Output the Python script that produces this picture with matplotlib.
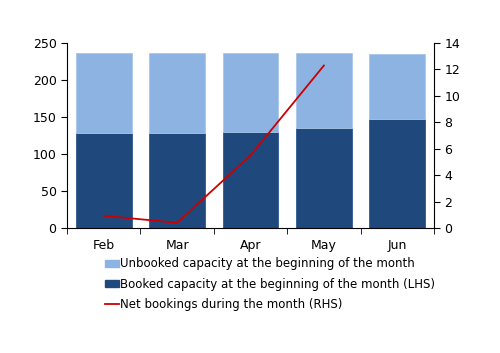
import matplotlib
matplotlib.use("Agg")
import matplotlib.pyplot as plt
from matplotlib.patches import Patch
from matplotlib.lines import Line2D

months = ["Feb", "Mar", "Apr", "May", "Jun"]
total_capacity = [236.5, 236.5, 236, 236, 235.5]
booked = [128, 129, 129.5, 135, 147]
net_bookings = [0.93, 0.4, 5.5, 12.3]  # RHS, Feb..May

light = "#8DB3E2"
dark = "#1F497D"
red = "#CC0000"

plt.rcParams['font.size'] = 9
fig = plt.figure(figsize=(5, 3.53), dpi=100)
ax = fig.add_axes([0.134, 0.354, 0.734, 0.524])

x = list(range(len(months)))
unbooked = [t - b for t, b in zip(total_capacity, booked)]
ax.bar(x, booked, width=0.76, color=dark, edgecolor="#2F5A8F", linewidth=0.6)
ax.bar(x, unbooked, bottom=booked, width=0.76, color=light, edgecolor="#A9C6EA", linewidth=0.6)

ax.set_xlim(-0.5, 4.5)
ax.set_ylim(0, 250)
ax.set_yticks(range(0, 251, 50))
ax.set_xticks(x)
ax.set_xticklabels(months)
ax.set_xticks([i + 0.5 for i in range(-1, 5)], minor=True)
ax.tick_params(axis="x", which="major", length=0, pad=8)
ax.tick_params(axis="x", which="minor", length=4, direction="out")
ax.tick_params(axis="y", length=4, direction="out")
for s in ["top", "right"]:
    ax.spines[s].set_visible(False)

ax2 = ax.twinx()
ax2.plot(x[:len(net_bookings)], net_bookings, color=red, linewidth=1.3)
ax2.set_ylim(0, 14)
ax2.set_yticks(range(0, 15, 2))
ax2.tick_params(axis="y", length=4, direction="out")
for s in ["top", "left", "bottom"]:
    ax2.spines[s].set_visible(False)

handles = [
    Patch(color=light),
    Patch(color=dark),
    Line2D([], [], color=red, linewidth=1.3),
]
labels = [
    "Unbooked capacity at the beginning of the month",
    "Booked capacity at the beginning of the month (LHS)",
    "Net bookings during the month (RHS)",
]
fig.legend(handles, labels, loc="upper left", bbox_to_anchor=(0.2, 0.284),
           frameon=False, handlelength=1.2, handleheight=0.6, handletextpad=0.1,
           labelspacing=0.62, borderaxespad=0, fontsize=8.5)

fig.savefig("out.png", dpi=100)
